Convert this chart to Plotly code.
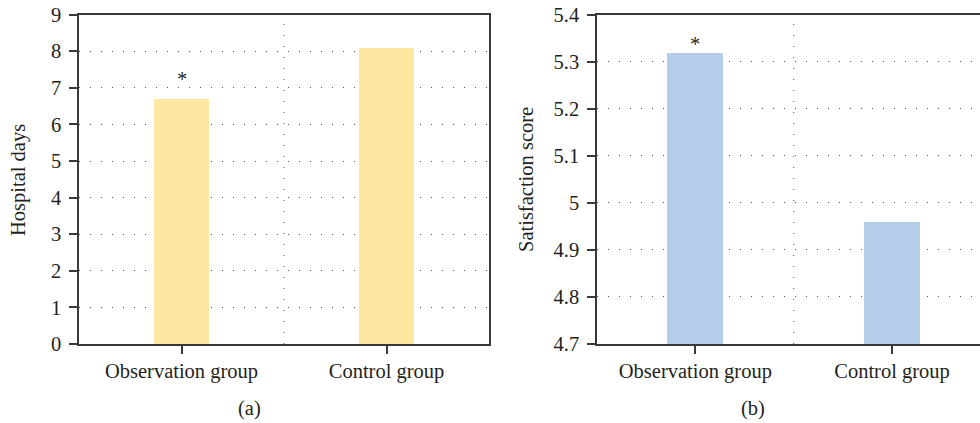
import plotly.graph_objects as go

categories = ["Observation group", "Control group"]
hospital_days = [6.71, 8.11]
satisfaction = [5.32, 4.96]
significance = ["*", ""]
panel_labels = ["(a)", "(b)"]
y_titles = ["Hospital days", "Satisfaction score"]
y1_ticks = [0, 1, 2, 3, 4, 5, 6, 7, 8, 9]
y2_ticks = [4.7, 4.8, 4.9, 5.0, 5.1, 5.2, 5.3, 5.4]
y2_text = ["4.7", "4.8", "4.9", "5", "5.1", "5.2", "5.3", "5.4"]

W, H = 980, 423
FONT = "Liberation Serif"
FS = 20.5
AX = "#3a3a3a"
GRID = "#555555"
YELLOW = "#FEE7A0"
BLUE = "#B5CFEB"
TXT = "#231F20"


def px_x(x):
    return x / W


def px_y(y):
    return 1 - y / H


fig = go.Figure()
fig.add_trace(go.Bar(x=categories, y=hospital_days, marker_color=YELLOW,
                     width=0.273, xaxis="x", yaxis="y", showlegend=False))
fig.add_trace(go.Bar(x=categories, y=satisfaction, marker_color=BLUE,
                     width=0.285, xaxis="x2", yaxis="y2", showlegend=False))

ydom = [px_y(344), px_y(14.7)]
common_x = dict(type="category", showline=True, linecolor=AX, linewidth=1.5,
                ticks="outside", ticklen=8, tickcolor=AX, tickwidth=1.5,
                showgrid=False, zeroline=False, automargin=False,
                ticklabeloverflow="allow",
                tickfont=dict(family=FONT, size=FS, color=TXT))
common_y = dict(showline=True, linecolor=AX, linewidth=1.5,
                ticks="outside", ticklen=8, tickcolor=AX, tickwidth=1.5,
                showgrid=True, gridcolor=GRID, griddash="1px,10px", gridwidth=1,
                zeroline=False, domain=ydom, automargin=False,
                ticklabeloverflow="allow",
                tickfont=dict(family=FONT, size=FS, color=TXT),
                ticklabelstandoff=4)

right_w = W - 597
fig.update_layout(
    template="none",
    width=W, height=H,
    margin=dict(l=0, r=0, t=0, b=0, pad=0),
    plot_bgcolor="white", paper_bgcolor="white",
    bargap=0,
    xaxis=dict(common_x, domain=[px_x(79), px_x(489)], anchor="y", mirror=True,
               range=[-0.5, 1.5]),
    yaxis=dict(common_y, anchor="x", range=[0, 9], tickvals=y1_ticks, mirror=True),
    xaxis2=dict(common_x, domain=[px_x(597), 1.0], anchor="y2", mirror=True,
                range=[-0.5, -0.5 + right_w / 196.7]),
    yaxis2=dict(common_y, anchor="x2", range=[4.7, 5.4],
                tickvals=y2_ticks, ticktext=y2_text, mirror=False),
)

# vertical dotted dividers between categories
for xr, yr in (("x", "y"), ("x2", "y2")):
    fig.add_shape(type="line", xref=xr, yref=yr + " domain", x0=0.5, x1=0.5, y0=0, y1=1,
                  line=dict(color=GRID, width=1, dash="1px,10px"), layer="below")

# significance marks
for i, s in enumerate(significance):
    if s:
        fig.add_annotation(x=categories[i], y=hospital_days[i], xref="x", yref="y",
                           text=s, showarrow=False, yanchor="bottom", yshift=6,
                           font=dict(family=FONT, size=FS, color=TXT))
        fig.add_annotation(x=categories[i], y=satisfaction[i], xref="x2", yref="y2",
                           text=s, showarrow=False, yanchor="bottom", yshift=-5,
                           font=dict(family=FONT, size=FS, color=TXT))

# axis titles
for xc, t in ((19, y_titles[0]), (526, y_titles[1])):
    fig.add_annotation(x=px_x(xc), y=px_y(180), xref="paper", yref="paper",
                       xanchor="center", yanchor="middle",
                       text=t, textangle=-90, showarrow=False,
                       font=dict(family=FONT, size=FS, color=TXT))

# panel labels
for xc, t in ((249, panel_labels[0]), (753, panel_labels[1])):
    fig.add_annotation(x=px_x(xc), y=px_y(408), xref="paper", yref="paper",
                       xanchor="center", yanchor="middle",
                       text=t, showarrow=False,
                       font=dict(family=FONT, size=FS, color=TXT))

fig.write_html("out.html", config={"displayModeBar": False},
               post_script="document.body.style.margin='0px';")
